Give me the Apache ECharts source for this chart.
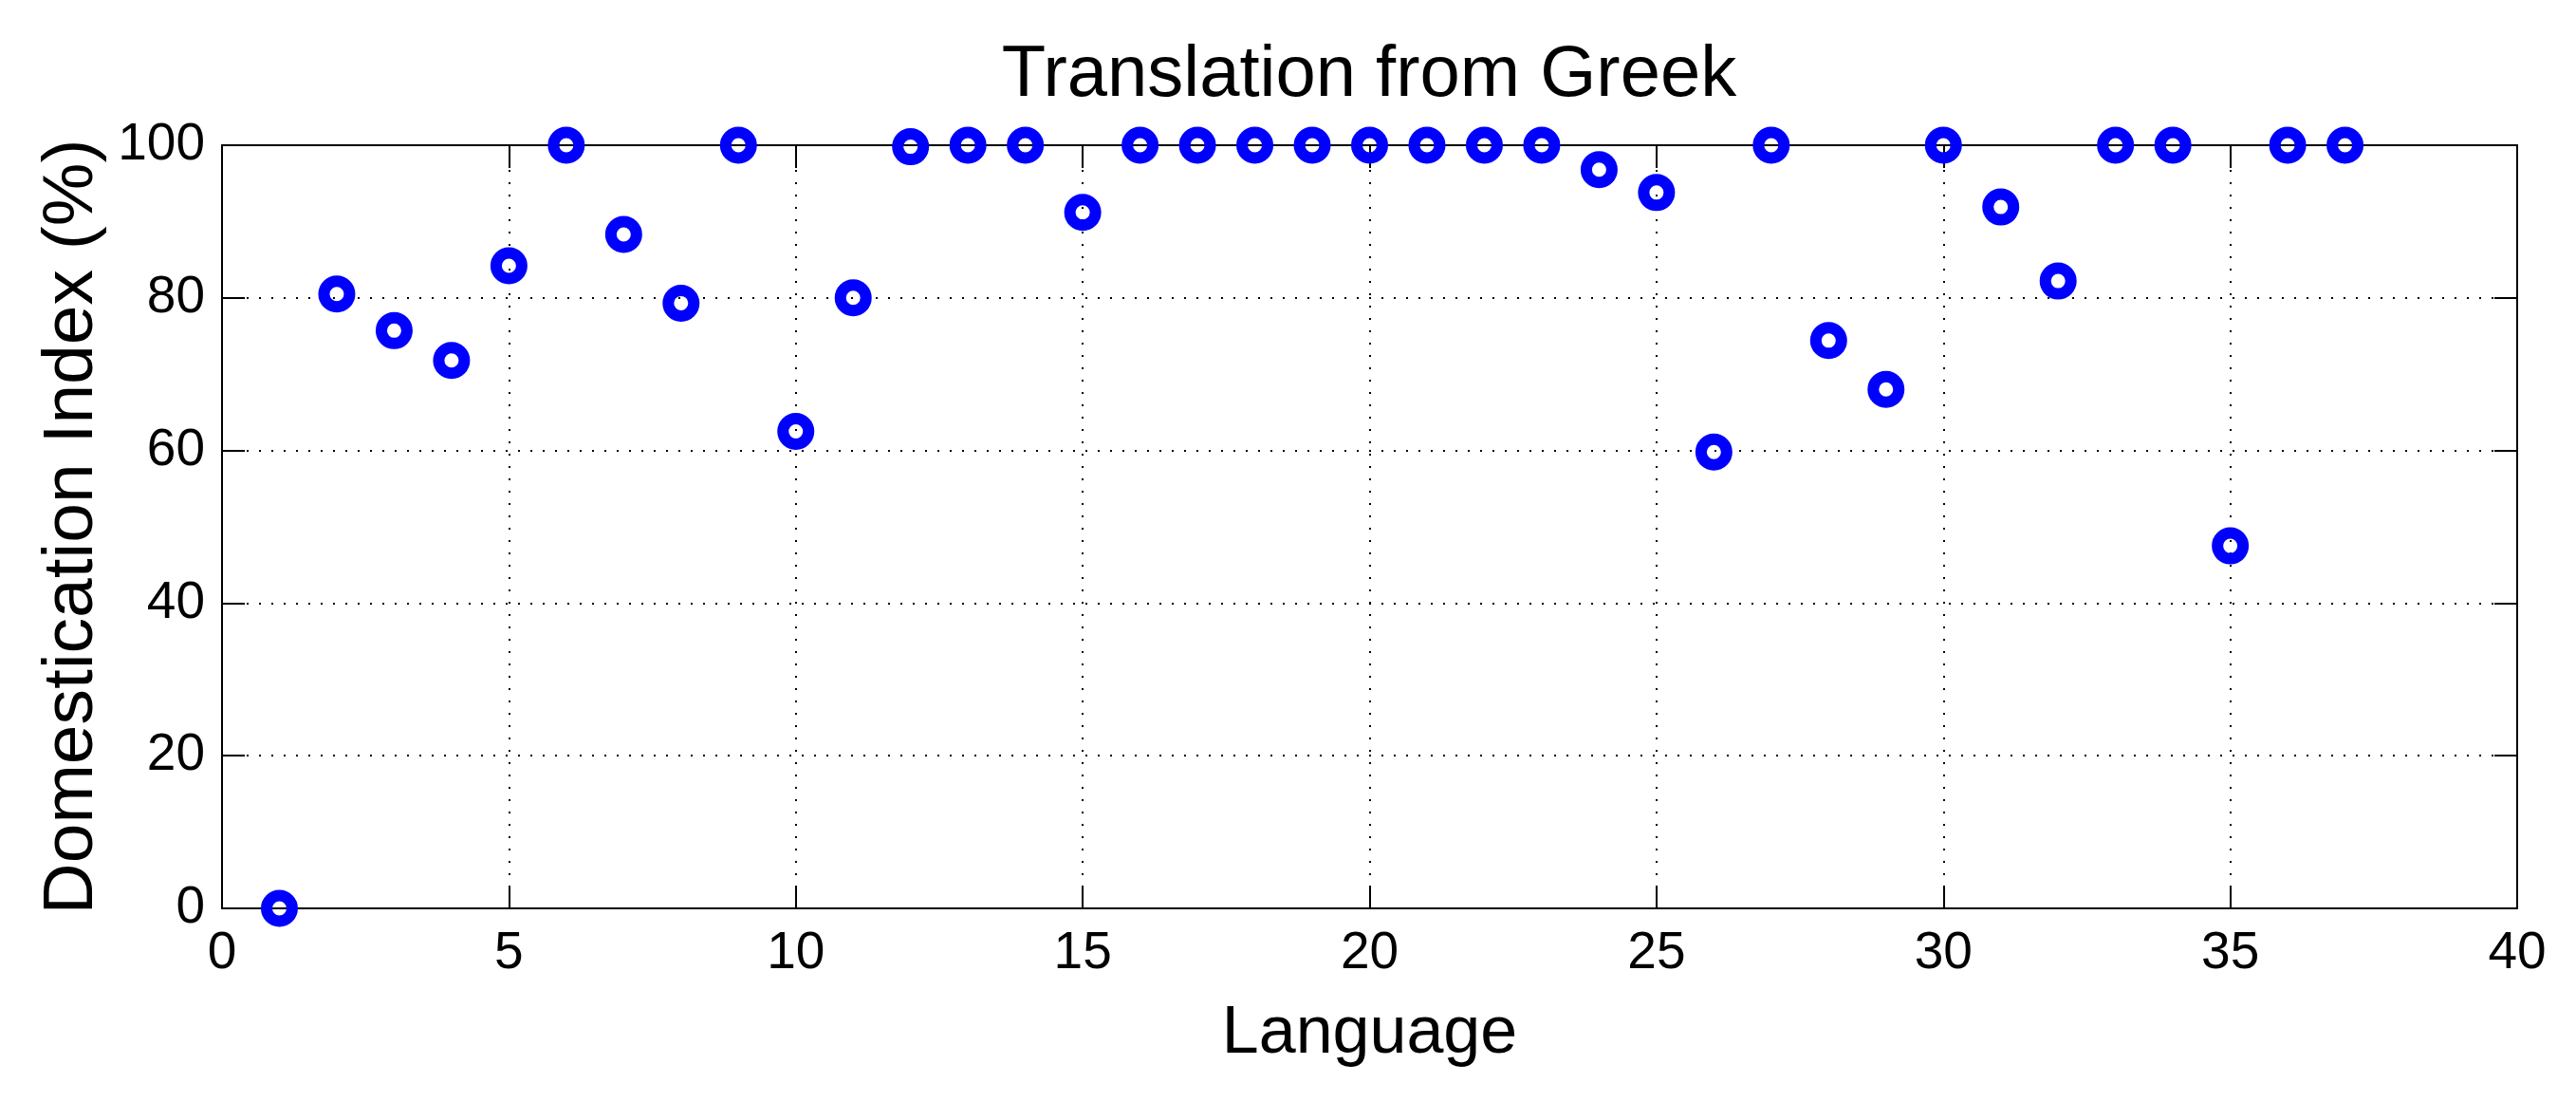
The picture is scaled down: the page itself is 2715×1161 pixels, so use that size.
<!DOCTYPE html>
<html>
<head>
<meta charset="utf-8">
<script src="https://cdn.jsdelivr.net/npm/echarts@6/dist/echarts.min.js"></script>
<style>
html,body{margin:0;padding:0;background:#ffffff;}
#chart{width:2715px;height:1161px;}
</style>
</head>
<body>
<div id="chart"></div>
<script>
// ---- data ----
const titleText = 'Translation from Greek';
const xAxisTitle = 'Language';
const yAxisTitle = 'Domestication Index (%)';
const languages = [1,2,3,4,5,6,7,8,9,10,11,12,13,14,15,16,17,18,19,20,21,22,23,24,25,26,27,28,29,30,31,32,33,34,35,36,37];
const domesticationIndex = [0, 80.5, 75.7, 71.8, 84.2, 100, 88.3, 79.3, 100, 62.5, 80.0, 99.8, 100, 100, 91.2,
  100, 100, 100, 100, 100, 100, 100, 100, 96.8, 93.8, 59.8, 100, 74.4, 68.0, 100, 91.9, 82.2, 100, 100, 47.5, 100, 100];
const xTickValues = [0, 5, 10, 15, 20, 25, 30, 35, 40];
const yTickValues = [0, 20, 40, 60, 80, 100];

// ---- chart ----
const FONT = '"Liberation Sans", Arial, Helvetica, sans-serif';
const chart = echarts.init(document.getElementById('chart'), null, {renderer: 'canvas'});
const xMin = xTickValues[0], xMax = xTickValues[xTickValues.length - 1], xStep = xTickValues[1] - xTickValues[0];
const yMin = yTickValues[0], yMax = yTickValues[yTickValues.length - 1], yStep = yTickValues[1] - yTickValues[0];

const lineBlack = {color: '#000000', width: 2};
const tickStyle = {show: true, inside: true, length: 24, lineStyle: {color: '#000000', width: 2}};
const gridDots = {show: true, lineStyle: {color: '#000000', width: 2, type: [2, 11]}};

const option = {
  animation: false,
  backgroundColor: '#ffffff',
  title: {
    text: titleText,
    left: 1443,
    top: 42,
    padding: 0,
    textAlign: 'center',
    textStyle: {fontSize: 76, fontWeight: 'normal', color: '#000000', fontFamily: FONT}
  },
  grid: {left: 234, right: 62, top: 153, bottom: 204, containLabel: false},
  xAxis: [
    {
      type: 'value', position: 'bottom', min: xMin, max: xMax, interval: xStep,
      axisLine: {show: true, onZero: false, lineStyle: lineBlack},
      axisTick: tickStyle,
      axisLabel: {show: true, margin: 20, fontSize: 55, color: '#000000', fontFamily: FONT},
      splitLine: gridDots,
      name: xAxisTitle, nameLocation: 'middle', nameGap: 98,
      nameTextStyle: {fontSize: 70, color: '#000000', fontFamily: FONT}
    },
    {
      type: 'value', position: 'top', min: xMin, max: xMax, interval: xStep,
      axisLine: {show: true, onZero: false, lineStyle: lineBlack},
      axisTick: tickStyle,
      axisLabel: {show: false},
      splitLine: {show: false}
    }
  ],
  yAxis: [
    {
      type: 'value', position: 'left', min: yMin, max: yMax, interval: yStep,
      axisLine: {show: true, onZero: false, lineStyle: lineBlack},
      axisTick: tickStyle,
      axisLabel: {show: true, margin: 18, fontSize: 55, color: '#000000', fontFamily: FONT},
      splitLine: gridDots,
      name: yAxisTitle, nameLocation: 'middle', nameGap: 119,
      nameTextStyle: {fontSize: 75, color: '#000000', fontFamily: FONT}
    },
    {
      type: 'value', position: 'right', min: yMin, max: yMax, interval: yStep,
      axisLine: {show: true, onZero: false, lineStyle: lineBlack},
      axisTick: tickStyle,
      axisLabel: {show: false},
      splitLine: {show: false}
    }
  ],
  series: [
    {
      type: 'scatter',
      xAxisIndex: 0, yAxisIndex: 0,
      clip: false,
      symbol: 'circle',
      symbolSize: 27,
      itemStyle: {color: 'rgba(0,0,0,0)', borderColor: '#0000ff', borderWidth: 12, opacity: 1},
      emphasis: {disabled: true},
      data: languages.map((x, i) => [x, domesticationIndex[i]])
    }
  ]
};
chart.setOption(option);
</script>
</body>
</html>
